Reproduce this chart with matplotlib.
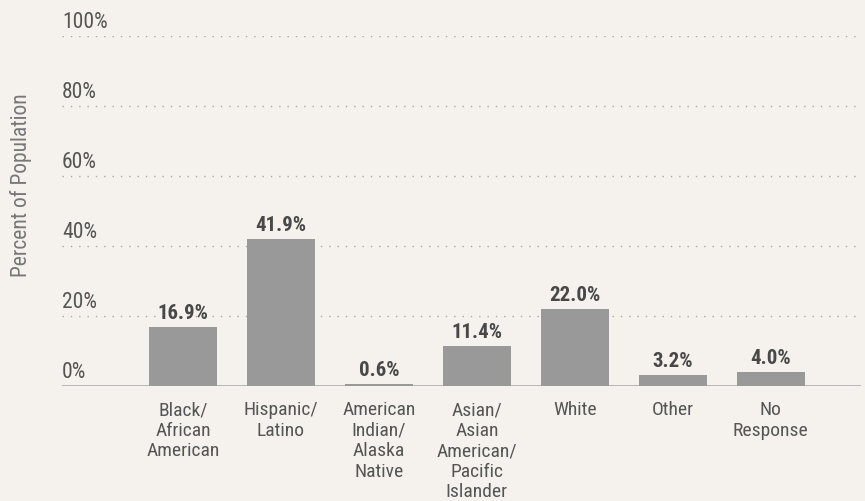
import matplotlib
matplotlib.use("Agg")
import matplotlib.pyplot as plt
from matplotlib import font_manager

categories = ["Black/\nAfrican\nAmerican", "Hispanic/\nLatino", "American\nIndian/\nAlaska\nNative",
              "Asian/\nAsian\nAmerican/\nPacific\nIslander", "White", "Other", "No\nResponse"]
values = [16.9, 41.9, 0.6, 11.4, 22.0, 3.2, 4.0]
yticks = [0, 20, 40, 60, 80, 100]

# Prefer a condensed sans; fall back to Roboto
names = {f.name for f in font_manager.fontManager.ttflist}
preferred = ["Roboto Condensed", "Archivo Narrow", "Barlow Semi Condensed", "Roboto"]
family = [next(n for n in preferred if n in names or n == "Roboto")]
plt.rcParams["font.family"] = family + ["DejaVu Sans"]

bg = "#f5f2ed"
bar_color = "#999999"
text_color = "#555555"

fig = plt.figure(figsize=(8.65, 5.02), dpi=100, facecolor=bg)
ax = fig.add_axes([62 / 865, 1 - 387.3 / 502, (861 - 62) / 865, (387.3 - 36.7) / 502])
ax.set_facecolor(bg)

x = list(range(len(values)))
ax.bar(x, values, width=0.70, color=bar_color, zorder=3)

for v in yticks[1:]:
    ax.axhline(v, color="#a8a8a8", lw=1.0, ls=(0, (1, 5)), zorder=1)
ax.axhline(0, color="#b0b0b0", lw=2.0, zorder=2)

for v in yticks:
    ax.annotate(f"{v}%", xy=(0, v), xycoords=("axes fraction", "data"),
                xytext=(0, 6.5), textcoords="offset points", ha="left", va="baseline",
                fontsize=15.5, color=text_color)

for xi, v in zip(x, values):
    ax.annotate(f"{v:.1f}%", xy=(xi, v), xytext=(0, 6.5), textcoords="offset points",
                ha="center", va="baseline", fontsize=15, fontweight="bold", color="#484848", zorder=4)

ax.set_xlim(-1.235, 6.92)
ax.set_ylim(0, 100)
ax.set_xticks(x)
ax.set_xticklabels(categories, fontsize=14, color=text_color, linespacing=1.18,
                   multialignment="center")
ax.tick_params(axis="x", length=0, pad=10)
ax.set_yticks([])
for s in ax.spines.values():
    s.set_visible(False)

fig.text(21 / 865, 1 - 185 / 502, "Percent of Population", rotation=90, ha="center",
         va="center", fontsize=15.5, color="#777777")

fig.savefig("out.png", dpi=100, facecolor=bg)
